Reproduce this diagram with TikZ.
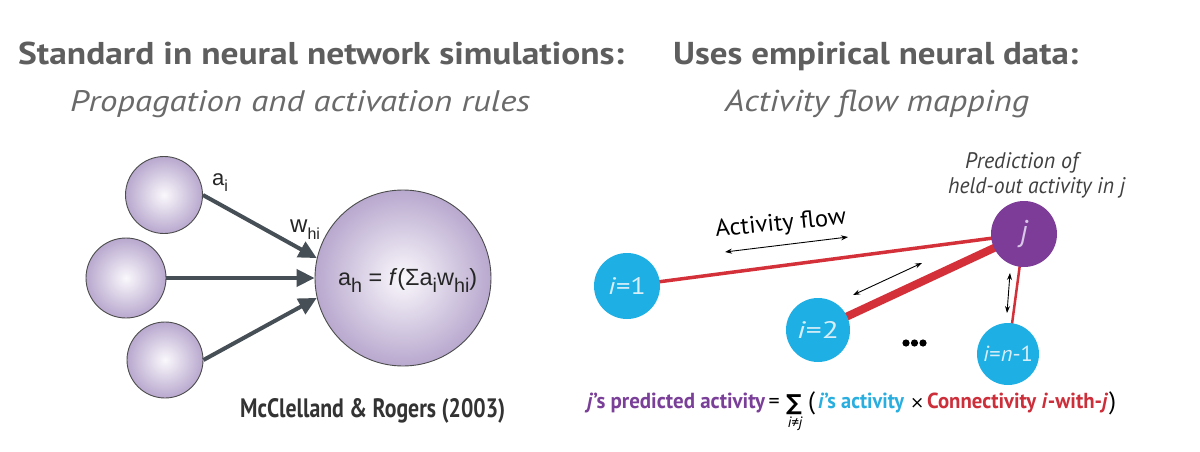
\documentclass[tikz,border=0pt]{standalone}
\usepackage{fontspec}
\usepackage{graphicx}
\usetikzlibrary{arrows.meta,backgrounds}
\setmainfont{PT Sans}
\newfontfamily\lfont{Liberation Sans}
\newfontfamily\djv{DejaVu Sans}
\definecolor{hgray}{HTML}{5E5E5E}
\definecolor{sgray}{HTML}{6A6A6A}
\definecolor{arrowgray}{HTML}{464E56}
\definecolor{lavin}{HTML}{FAF8FC}
\definecolor{lavout}{HTML}{B8A8CE}
\definecolor{icyan}{HTML}{1EB0E4}
\definecolor{jpurple}{HTML}{7D3C98}
\definecolor{cred}{HTML}{D4303A}
\definecolor{fpurple}{HTML}{7A3F98}
\definecolor{fcyan}{HTML}{29AEE0}
\definecolor{fred}{HTML}{CC2E3A}
\definecolor{ilabel}{HTML}{D8EEF9}
\definecolor{jlabel}{HTML}{D9C6E8}
\newcommand{\lsub}[1]{\raisebox{-0.3em}{\fontsize{16}{16}\selectfont #1}}
\begin{document}
\begin{tikzpicture}[x=1pt,y=-1pt,
  neuron/.style={circle, draw=black!70, line width=0.9pt, shading=radial, inner color=lavin, outer color=lavout, inner sep=0},
  feed/.style={draw=arrowgray, line width=4pt, -{Triangle[length=18pt,width=17pt]}},
  inode/.style={circle, fill=icyan, inner sep=0, text=ilabel},
  conn/.style={draw=cred},
  flow/.style={draw=black, line width=0.9pt, {Stealth[length=7pt,width=5pt]}-{Stealth[length=7pt,width=5pt]}},
  txt/.style={inner sep=0},
  ftxt/.style={inner sep=0, anchor=base west}
]
\useasboundingbox (0,0) rectangle (1200,452);

% headings
\node[txt, anchor=base west, text=hgray] (h1) at (18,64.5) {\resizebox{606pt}{22.5pt}{\bfseries Standard in neural network simulations:}};
\node[txt, anchor=base west, text=hgray] (h2) at (673,64.5) {\resizebox{405pt}{22.5pt}{\bfseries Uses empirical neural data:}};
\node[txt, anchor=base west, text=sgray] (s1) at (70,111.5) {\resizebox{460pt}{21pt}{\itshape Propagation and activation rules}};
\node[txt, anchor=base west, text=sgray] (s2) at (725,111.5) {\resizebox{304pt}{21.5pt}{\itshape Activity flow mapping}};

% left network
\node[neuron, minimum size=77pt] (c1) at (164,195) {};
\node[neuron, minimum size=80pt] (c2) at (126,278) {};
\node[neuron, minimum size=76pt] (c3) at (165,360) {};
\node[neuron, minimum size=176pt] (big) at (403,278) {};
\draw[feed] (c1.east) -- (big.167);
\draw[feed] (c2.east) -- (big.west);
\draw[feed] (c3.east) -- (big.-167);
\node[txt, anchor=base west, text=black!85, font=\lfont\fontsize{22}{22}\selectfont] (ai) at (212,185) {a\lsub{i}};
\node[txt, anchor=base west, text=black!85, font=\lfont\fontsize{24}{24}\selectfont] (whi) at (290,232) {w\lsub{hi}};
\node[txt, anchor=base west, text=black!85, font=\lfont\fontsize{19}{19}\selectfont] (ah) at (338,285) {\resizebox{139pt}{!}{a\lsub{h} = \textit{f}(Σa\lsub{i}w\lsub{hi})}};
\node[txt, anchor=base west, text=black!80] (mr) at (240,417) {\resizebox{265pt}{19pt}{\bfseries McClelland \& Rogers (2003)}};

% right network
\node[inode, minimum size=66pt] (i1) at (627,286) {\resizebox{38pt}{17pt}{\textit{i}=1}};
\node[inode, minimum size=64pt] (i2) at (818,330) {\resizebox{42pt}{17pt}{\textit{i}=2}};
\node[inode, minimum size=62pt] (in) at (1008,354) {\resizebox{50pt}{15.5pt}{\textit{i}=\textit{n}-1}};
\node[circle, fill=jpurple, inner sep=0, minimum size=66pt, text=jlabel, font=\fontsize{30}{30}\selectfont\itshape] (j) at (1024,234) {j};
\begin{pgfonlayer}{background}
\fill[white] (0,0) rectangle (1200,452);
\draw[conn, line width=3.5pt] (i1.center) -- (j.center);
\draw[conn, line width=8pt] (i2.center) -- (j.center);
\draw[conn, line width=2.5pt] (in.center) -- (j.center);
\end{pgfonlayer}

\coordinate (f1a) at (725,252);
\coordinate (f1b) at (848,237);
\coordinate (f2a) at (853,295);
\coordinate (f2b) at (922,263);
\coordinate (f3a) at (1010,273);
\coordinate (f3b) at (1007,313);
\draw[flow] (f1a) -- (f1b);
\draw[flow] (f2a) -- (f2b);
\draw[flow] (f3a) -- (f3b);
\node[txt, rotate=5.7, anchor=base west] (af) at (716,237) {\resizebox{131pt}{17pt}{Activity flow}};

\fill (906,343) circle (3.6pt) (914.5,343) circle (3.6pt) (923,343) circle (3.6pt);

\node[txt, anchor=base west, text=black!75] (p1) at (965,168) {\resizebox{113pt}{16pt}{\itshape Prediction of}};
\node[txt, anchor=base west, text=black!75] (p2) at (948,193) {\resizebox{177pt}{16pt}{\itshape held-out activity in j}};

% bottom formula
\node[ftxt, text=fpurple] (fa) at (587,408) {\resizebox{178pt}{15.5pt}{\bfseries\textit{j}'s predicted activity}};
\node[ftxt, font=\fontsize{22}{22}\selectfont] (feq) at (768.5,408) {=};
\node[ftxt, font=\djv\fontsize{22}{22}\selectfont\bfseries] (fsum) at (786,410) {∑};
\node[txt, font=\fontsize{15}{15}\selectfont\itshape] (fsub) at (795,424) {i≠j};
\node[ftxt, font=\fontsize{25}{25}\selectfont] (flp) at (808,409) {(};
\node[ftxt, text=fcyan] (fb) at (818,408) {\resizebox{86pt}{15.5pt}{\bfseries\textit{i}'s activity}};
\node[ftxt, font=\djv\fontsize{17}{17}\selectfont] (fx) at (910,408) {×};
\node[ftxt, text=fred] (fc) at (927,408) {\resizebox{181pt}{15.5pt}{\bfseries Connectivity \textit{i}-with-\textit{j}}};
\node[ftxt, font=\fontsize{25}{25}\selectfont] (frp) at (1109,409) {)};
\end{tikzpicture}
\end{document}
